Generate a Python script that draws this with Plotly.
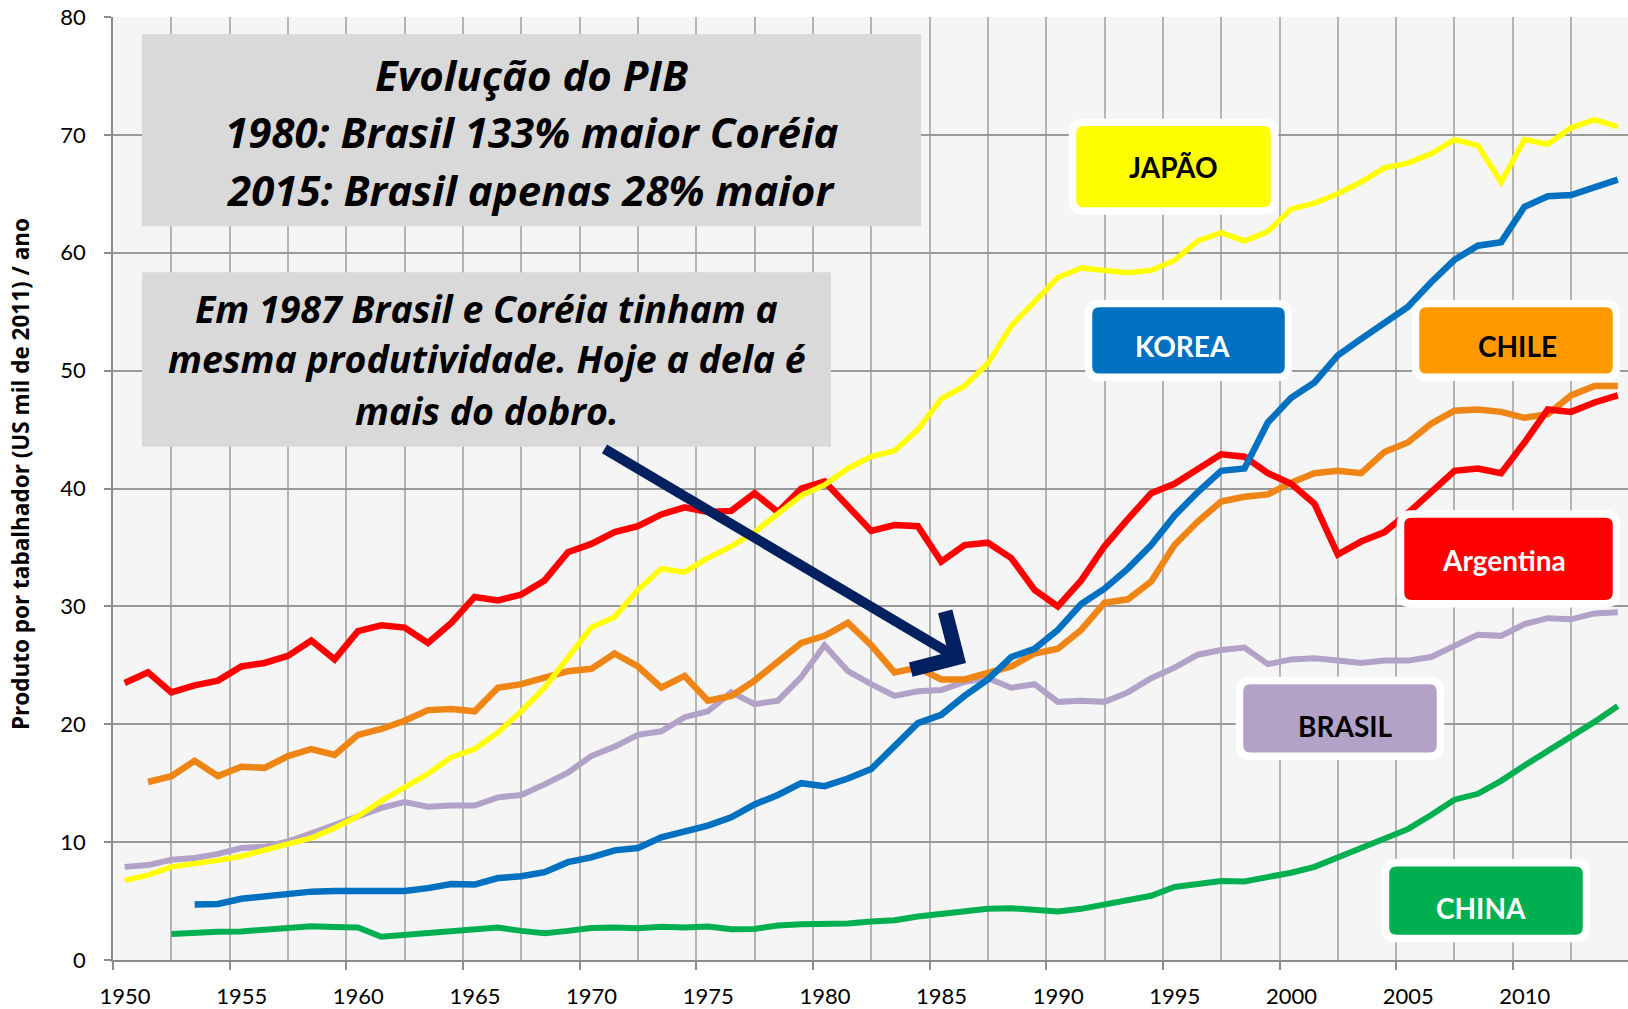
import plotly.graph_objects as go

# ---------------- data ----------------
years = list(range(1950, 2015))

argentina = [23.5, 24.4, 22.7, 23.3, 23.7, 24.9, 25.2, 25.8, 27.1, 25.5,
             27.9, 28.4, 28.2, 26.9, 28.6, 30.8, 30.5, 31.0, 32.2, 34.6,
             35.3, 36.3, 36.8, 37.8, 38.4, 38.0, 38.1, 39.6, 38.0, 40.0,
             40.6, 38.4, 36.4, 36.9, 36.8, 33.8, 35.2, 35.4, 34.1, 31.4,
             30.0, 32.2, 35.1, 37.4, 39.6, 40.4, 41.7, 42.9, 42.7, 41.3,
             40.4, 38.7, 34.4, 35.5, 36.3, 37.9, 39.7, 41.5, 41.7, 41.3,
             43.9, 46.7, 46.5, 47.3, 47.9]

chile = [None, 15.1, 15.6, 16.9, 15.6, 16.4, 16.3, 17.3, 17.9, 17.4,
         19.1, 19.6, 20.3, 21.2, 21.3, 21.1, 23.1, 23.4, 23.9, 24.5,
         24.7, 26.0, 24.9, 23.1, 24.1, 22.0, 22.4, 23.7, 25.3, 26.9,
         27.5, 28.6, 26.7, 24.4, 24.8, 23.8, 23.8, 24.4, 24.9, 26.0,
         26.4, 28.0, 30.3, 30.6, 32.1, 35.2, 37.2, 38.9, 39.3, 39.5,
         40.5, 41.3, 41.5, 41.3, 43.1, 43.9, 45.5, 46.6, 46.7, 46.5,
         46.0, 46.3, 47.9, 48.7, 48.7]

japao = [6.75, 7.2, 7.9, 8.15, 8.45, 8.8, 9.3, 9.8, 10.35, 11.2,
         12.2, 13.5, 14.6, 15.8, 17.2, 17.9, 19.3, 21.1, 23.1, 25.6,
         28.2, 29.1, 31.4, 33.2, 32.9, 34.1, 35.1, 36.3, 37.9, 39.4,
         40.3, 41.7, 42.7, 43.2, 45.0, 47.6, 48.7, 50.6, 53.8, 55.9,
         57.9, 58.7, 58.5, 58.3, 58.5, 59.35, 61.0, 61.7, 61.0, 61.8,
         63.7, 64.2, 65.0, 66.0, 67.2, 67.6, 68.4, 69.6, 69.1, 66.0,
         69.6, 69.2, 70.6, 71.3, 70.7]

korea = [None, None, None, 4.7, 4.75, 5.2, 5.4, 5.7, 5.8, 5.85,
         5.85, 5.9, 5.85, 6.1, 6.45, 6.4, 6.95, 7.1, 7.45, 8.3,
         8.7, 9.3, 9.5, 10.4, 10.9, 11.4, 12.1, 13.2, 14.0, 15.0,
         14.75, 15.4, 16.2, 18.2, 20.1, 20.8, 22.4, 23.8, 25.7, 26.4,
         28.0, 30.2, 31.5, 33.2, 35.2, 37.7, 39.7, 41.5, 41.7, 45.6,
         47.7, 49.0, 51.3, 52.7, 54.1, 55.4, 57.5, 59.4, 60.6, 60.9,
         63.9, 64.8, 64.9, 65.6, 66.2]

brasil = [7.9, 8.05, 8.5, 8.65, 9.0, 9.5, 9.6, 10.05, 10.75, 11.45,
          12.15, 12.9, 13.4, 13.0, 13.1, 13.1, 13.8, 14.0, 14.9, 15.9,
          17.3, 18.1, 19.1, 19.4, 20.6, 21.1, 22.7, 21.7, 22.0, 24.0,
          26.7, 24.5, 23.4, 22.4, 22.8, 22.9, 23.6, 23.9, 23.1, 23.4,
          21.9, 22.0, 21.9, 22.7, 23.9, 24.8, 25.9, 26.3, 26.5, 25.1,
          25.5, 25.6, 25.4, 25.2, 25.4, 25.4, 25.7, 26.7, 27.6, 27.5,
          28.5, 29.0, 28.9, 29.4, 29.5]

china = [None, None, 2.2, 2.33, 2.4, 2.42, 2.6, 2.75, 2.87, 2.8,
         2.75, 1.97, 2.13, 2.33, 2.53, 2.64, 2.75, 2.47, 2.28, 2.47,
         2.72, 2.75, 2.7, 2.82, 2.75, 2.84, 2.6, 2.64, 2.92, 3.04,
         3.04, 3.09, 3.26, 3.38, 3.69, 3.94, 4.11, 4.34, 4.4, 4.26,
         4.11, 4.34, 4.74, 5.1, 5.45, 6.2, 6.4, 6.7, 6.67, 7.0,
         7.4, 7.9, 8.7, 9.4, 10.25, 11.1, 12.3, 13.6, 14.1, 15.2,
         16.5, 17.7, 18.9, 20.2, 21.55]

tick_labels = ["1950", "1955", "1960", "1965", "1970", "1975", "1980",
               "1985", "1990", "1995", "2000", "2005", "2010"]
y_ticks = [0, 10, 20, 30, 40, 50, 60, 70, 80]

title_lines = ["Evolução do PIB",
               "1980: Brasil 133% maior Coréia",
               "2015: Brasil apenas 28% maior"]
note_lines = ["Em 1987 Brasil e Coréia tinham a",
              "mesma produtividade. Hoje a dela é",
              "mais do dobro."]
y_title = "Produto por tabalhador (US mil de 2011) / ano"

# ---------------- layout geometry ----------------
W, H = 1628, 1009
L, R, T, B = 113, 0, 17, 46
PW = W - L - R
PH = H - T - B
YEAR_PX = 23.33
x_lo = 1949.5
x_hi = x_lo + PW / YEAR_PX


def px(x):
    return (x - L) / PW


def py(y):
    return (H - B - y) / PH


def rrect(x0, y0, x1, y1, r):
    pts = [
        ("M", [(x0 + r, y0)]),
        ("L", [(x1 - r, y0)]),
        ("Q", [(x1, y0), (x1, y0 + r)]),
        ("L", [(x1, y1 - r)]),
        ("Q", [(x1, y1), (x1 - r, y1)]),
        ("L", [(x0 + r, y1)]),
        ("Q", [(x0, y1), (x0, y1 - r)]),
        ("L", [(x0, y0 + r)]),
        ("Q", [(x0, y0), (x0 + r, y0)]),
    ]
    s = ""
    for cmd, ps in pts:
        s += cmd + " ".join(f"{px(a):.5f},{py(b):.5f}" for a, b in ps) + " "
    return s + "Z"


fig = go.Figure()

series = [
    ("China", china, "#00B050", 6),
    ("Brasil", brasil, "#B3A2C7", 6),
    ("Chile", chile, "#EE8515", 6.5),
    ("Argentina", argentina, "#FF0000", 6.5),
    ("Korea", korea, "#0070C0", 6.5),
    ("Japão", japao, "#FFFF00", 5.5),
]
for name, vals, col, w in series:
    fig.add_trace(go.Scatter(x=years, y=vals, mode="lines", name=name,
                             line=dict(color=col, width=w),
                             connectgaps=False, hoverinfo="skip"))

shapes = []
# text boxes
shapes.append(dict(type="rect", xref="paper", yref="paper",
                   x0=px(142), x1=px(921), y0=py(34), y1=py(227),
                   fillcolor="#D9D9D9", line=dict(width=0), layer="above"))
shapes.append(dict(type="rect", xref="paper", yref="paper",
                   x0=px(142), x1=px(831), y0=py(273), y1=py(448),
                   fillcolor="#D9D9D9", line=dict(width=0), layer="above"))

labels = [
    ("JAPÃO", (1076, 126, 1271, 208), "#FFFF00", "black", (1173, 167)),
    ("KOREA", (1092, 308, 1285, 375), "#0070C0", "white", (1182, 347)),
    ("CHILE", (1419, 308, 1613, 375), "#FF9900", "black", (1517, 347)),
    ("Argentina", (1404, 519, 1613, 602), "#FF0000", "white", (1504, 562)),
    ("BRASIL", (1243, 686, 1437, 755), "#B3A2C7", "black", (1345, 728)),
    ("CHINA", (1389, 869, 1583, 938), "#00B050", "white", (1481, 911)),
]
annotations = []
for text, (x0, y0, x1, y1), fill, tcol, (cx, cy) in labels:
    e = 3.5
    shapes.append(dict(type="path", xref="paper", yref="paper",
                       path=rrect(x0 - e, y0 - e, x1 + e, y1 + e, 11),
                       fillcolor=fill, line=dict(color="white", width=7.5),
                       layer="above"))
    annotations.append(dict(xref="paper", yref="paper", x=px(cx), y=py(cy),
                            text=text, showarrow=False, xanchor="center",
                            yanchor="middle",
                            font=dict(family="Lato", size=28, color=tcol,
                                      weight="bold")))

for txt, cy in zip(title_lines, [75, 132, 190]):
    annotations.append(dict(xref="paper", yref="paper", x=px(531), y=py(cy),
                            text=txt, showarrow=False, xanchor="center",
                            yanchor="middle",
                            font=dict(family="Open Sans", size=42,
                                      color="black",
                                      weight="bold", style="italic")))
for txt, cy in zip(note_lines, [309, 360, 412]):
    annotations.append(dict(xref="paper", yref="paper", x=px(486.5), y=py(cy),
                            text=txt, showarrow=False, xanchor="center",
                            yanchor="middle",
                            font=dict(family="Open Sans", size=37.5,
                                      color="black",
                                      weight="bold", style="italic")))

# arrow
tip = (966, 665)
tail = (603, 450)
annotations.append(dict(xref="paper", yref="paper", x=px(tip[0]), y=py(tip[1]),
                        ax=tail[0] - tip[0], ay=tail[1] - tip[1],
                        axref="pixel", ayref="pixel", text="",
                        showarrow=True, arrowhead=4, arrowsize=1.3,
                        arrowwidth=10, arrowcolor="#002060"))

# y title
annotations.append(dict(xref="paper", yref="paper", x=px(20.5), y=py(476),
                        text=y_title, showarrow=False, textangle=-90,
                        xanchor="center", yanchor="middle",
                        font=dict(family="Open Sans", size=22.5, color="black",
                                  weight="bold")))

fig.update_layout(
    width=W, height=H,
    margin=dict(l=L, r=R, t=T, b=B, pad=0),
    paper_bgcolor="white",
    plot_bgcolor="#F5F5F5",
    showlegend=False,
    shapes=shapes,
    annotations=annotations,
    xaxis=dict(
        range=[x_lo, x_hi],
        tickmode="array",
        tickvals=[y - 0.5 for y in range(1950, 2015, 5)],
        ticktext=tick_labels,
        ticklabelshift=int(round(YEAR_PX / 2)),
        ticklabelstandoff=8,
        ticks="outside", ticklen=8, tickwidth=1.5, tickcolor="#8C8C8C",
        showgrid=True, gridcolor="#B4B4B4", gridwidth=1.6,
        minor=dict(tickmode="array",
                   tickvals=[y + 2.0 for y in range(1950, 2015, 5)],
                   showgrid=True, gridcolor="#B4B4B4", gridwidth=1.6,
                   ticks=""),
        showline=True, linecolor="#8C8C8C", linewidth=1.6,
        zeroline=False,
        tickfont=dict(family="Lato", size=22, color="black"),
        fixedrange=True,
    ),
    yaxis=dict(
        range=[0, 80],
        tickmode="array", tickvals=y_ticks,
        ticks="outside", ticklen=7, tickwidth=1.5, tickcolor="#8C8C8C",
        ticklabelstandoff=14,
        showgrid=True, gridcolor="#999999", gridwidth=1.8,
        showline=True, linecolor="#8C8C8C", linewidth=1.6,
        zeroline=False,
        tickfont=dict(family="Lato", size=22, color="black"),
        fixedrange=True,
    ),
)

fig.write_html(
    "out.html",
    config={"displayModeBar": False},
    post_script="document.body.style.margin='0';"
                "document.body.style.padding='0';"
                "document.body.style.overflow='hidden';",
)
